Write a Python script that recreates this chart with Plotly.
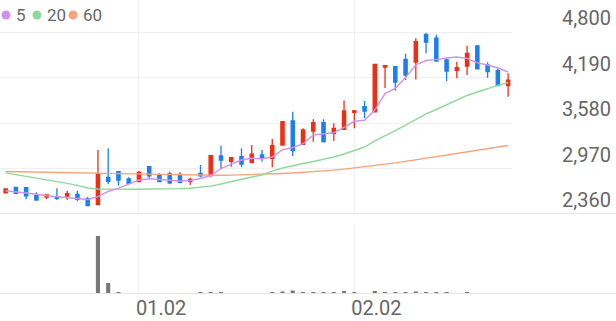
import plotly.graph_objects as go

dates = ["2025-12-11", "2025-12-12", "2025-12-15", "2025-12-16", "2025-12-17", "2025-12-18", "2025-12-19",
         "2025-12-22", "2025-12-23", "2025-12-24", "2025-12-26", "2025-12-29", "2025-12-30",
         "2026-01-02", "2026-01-05", "2026-01-06", "2026-01-07", "2026-01-08", "2026-01-09",
         "2026-01-12", "2026-01-13", "2026-01-14", "2026-01-15", "2026-01-16",
         "2026-01-19", "2026-01-20", "2026-01-21", "2026-01-22", "2026-01-23",
         "2026-01-26", "2026-01-27", "2026-01-28", "2026-01-29", "2026-01-30",
         "2026-02-02", "2026-02-03", "2026-02-04", "2026-02-05", "2026-02-06",
         "2026-02-09", "2026-02-10", "2026-02-11", "2026-02-12", "2026-02-13",
         "2026-02-19", "2026-02-20", "2026-02-23", "2026-02-24", "2026-02-25", "2026-02-26"]

open_ = [2645, 2718, 2713, 2611, 2588, 2592, 2601, 2624, 2565, 2485,
         2852, 2927, 2829, 2793, 2994, 2883, 2896, 2892, 2798, 2905,
         2879, 3138, 3066, 3128, 3048, 3151, 3107, 3285, 3607, 3294,
         3473, 3584, 3442, 3495, 3723, 3798, 3731, 4331, 4335, 4434,
         4398, 4764, 4716, 4425, 4286, 4344, 4612, 4358, 4281, 4080]
high = [2700, 2722, 2713, 2651, 2615, 2704, 2672, 2672, 2588, 3218,
        3241, 2927, 2852, 2936, 2994, 2905, 2927, 2919, 2847, 3017,
        3142, 3276, 3115, 3241, 3285, 3218, 3365, 3597, 3732, 3509,
        3629, 3629, 3576, 3882, 3754, 3875, 4367, 4348, 4335, 4508,
        4716, 4791, 4764, 4447, 4402, 4616, 4626, 4394, 4321, 4246]
low = [2640, 2632, 2557, 2548, 2561, 2548, 2548, 2530, 2471, 2485,
       2758, 2742, 2758, 2793, 2838, 2785, 2758, 2771, 2749, 2852,
       2852, 2959, 2994, 2986, 3048, 3061, 2986, 3285, 3138, 3294,
       3329, 3318, 3339, 3495, 3509, 3643, 3731, 4049, 4013, 4156,
       4163, 4514, 4411, 4143, 4179, 4223, 4307, 4187, 4080, 3932]
close = [2695, 2637, 2605, 2548, 2615, 2570, 2632, 2557, 2471, 2900,
         2798, 2816, 2771, 2919, 2873, 2793, 2779, 2785, 2825, 2873,
         3142, 3084, 3115, 3030, 3164, 3115, 3276, 3597, 3209, 3486,
         3584, 3332, 3509, 3741, 3741, 3741, 4367, 4348, 4130, 4223,
         4670, 4663, 4411, 4277, 4321, 4514, 4307, 4268, 4080, 4156]

ma5 = [2672, 2659, 2645, 2624, 2605, 2592, 2584, 2570, 2554, 2594,
       2662, 2708, 2762, 2816, 2833, 2825, 2809, 2802, 2809, 2836,
       2876, 2970, 3030, 3084, 3107, 3101, 3124, 3222, 3251, 3302,
       3419, 3439, 3449, 3520, 3603, 3616, 3754, 3974, 4045, 4190,
       4358, 4418, 4429, 4451, 4465, 4447, 4387, 4358, 4317, 4264]
ma20 = [2911, 2889, 2865, 2843, 2818, 2794, 2770, 2743, 2709, 2695,
        2692, 2691, 2691, 2692, 2695, 2695, 2698, 2700, 2706, 2718,
        2733, 2762, 2796, 2829, 2856, 2883, 2936, 2977, 3010, 3037,
        3064, 3091, 3124, 3165, 3209, 3258, 3339, 3406, 3479, 3553,
        3627, 3701, 3761, 3821, 3882, 3949, 3996, 4043, 4085, 4123]
ma60 = [2930, 2928, 2926, 2923, 2920, 2918, 2915, 2912, 2910, 2907,
        2904, 2902, 2899, 2896, 2894, 2891, 2888, 2885, 2883, 2881,
        2880, 2880, 2881, 2884, 2887, 2891, 2896, 2903, 2910, 2918,
        2926, 2935, 2948, 2962, 2977, 2993, 3009, 3028, 3046, 3066,
        3087, 3108, 3129, 3151, 3172, 3194, 3215, 3237, 3258, 3278]

volume = [40000, 50000, 40000, 40000, 40000, 60000, 50000, 60000, 80000, 5800000,
          1100000, 130000, 100000, 100000, 100000, 80000, 100000, 60000, 60000, 150000,
          200000, 200000, 80000, 80000, 80000, 80000, 130000, 250000, 350000, 200000,
          120000, 150000, 150000, 300000, 120000, 100000, 300000, 150000, 150000, 150000,
          250000, 180000, 150000, 120000, 100000, 120000, 100000, 80000, 80000, 80000]

price_ticks = [2360, 2970, 3580, 4190, 4800]
price_tick_text = ["2,360", "2,970", "3,580", "4,190", "4,800"]
x_tick_dates = ["2026-01-02", "2026-02-02"]
x_tick_text = ["01.02", "02.02"]

legend_names = ["5", "20", "60"]
RED = "#ee2f12"
BLUE = "#1c7ff0"
C5 = "#d092ee"
C20 = "#8fd99b"
C60 = "#f7a27c"
GRID = "#f0f0f0"
FONT = "Roboto"

fig = go.Figure()
fig.add_trace(go.Scatter(x=dates, y=ma60, mode="lines", line=dict(color=C60, width=1.4),
                         xaxis="x", yaxis="y", hoverinfo="skip"))
fig.add_trace(go.Scatter(x=dates, y=ma20, mode="lines", line=dict(color=C20, width=1.4),
                         xaxis="x", yaxis="y", hoverinfo="skip"))
fig.add_trace(go.Scatter(x=dates, y=ma5, mode="lines", line=dict(color=C5, width=1.4),
                         xaxis="x", yaxis="y", hoverinfo="skip"))
fig.add_trace(go.Candlestick(
    x=dates, open=open_, high=high, low=low, close=close,
    increasing=dict(line=dict(color=RED, width=1.3), fillcolor=RED),
    decreasing=dict(line=dict(color=BLUE, width=1.3), fillcolor=BLUE),
    whiskerwidth=0, xaxis="x", yaxis="y"))
fig.add_trace(go.Bar(x=dates, y=volume, marker=dict(color="#777777", line=dict(width=0)),
                     width=0.4, xaxis="x", yaxis="y2"))

fig.update_layout(
    width=616, height=321,
    margin=dict(l=0, r=104, t=0, b=27),
    paper_bgcolor="white", plot_bgcolor="white",
    showlegend=False, boxgap=0.55,
    font=dict(family=FONT, color="#666666"),
    xaxis=dict(type="category", range=[-0.55, 49.38], anchor="y2",
               tickvals=x_tick_dates, ticktext=x_tick_text,
               showgrid=True, gridcolor=GRID, gridwidth=1,
               zeroline=False, showline=False, ticks="",
               ticklabelposition="outside right", ticklabelshift=-3,
               tickfont=dict(family=FONT, size=20, color="#666666"),
               rangeslider=dict(visible=False), fixedrange=True),
    yaxis=dict(domain=[0.2721, 1], range=[2360, 5229], side="right",
               tickvals=price_ticks, ticktext=price_tick_text,
               showgrid=True, gridcolor=GRID, gridwidth=1,
               zeroline=False, showline=False, ticks="",
               ticklabelposition="outside top", ticklabelstandoff=49,
               tickfont=dict(family=FONT, size=20, color="#666666")),
    yaxis2=dict(domain=[0, 0.2347], range=[0, 6900000], visible=False),
)

# full-width baseline rules
for yref, yval in (("y", 2360), ("y2", 0)):
    fig.add_shape(type="line", xref="paper", yref=yref, x0=0, x1=616 / 512, y0=yval, y1=yval,
                  line=dict(color="#e6e6e6", width=2))

# legend
leg_x = [6, 37, 73]
leg_colors = [C5, C20, C60]
for px, col, name in zip(leg_x, leg_colors, legend_names):
    fig.add_shape(type="circle", xref="paper", yref="paper",
                  x0=(px - 4.5) / 512, x1=(px + 4.5) / 512,
                  y0=(294 - 15 - 4.5) / 294, y1=(294 - 15 + 4.5) / 294,
                  fillcolor=col, line=dict(width=0))
    fig.add_annotation(xref="paper", yref="paper", x=(px + 8) / 512, y=(294 - 15) / 294,
                       text=name, showarrow=False, xanchor="left", yanchor="middle",
                       font=dict(family=FONT, size=17, color="#666666"))

fig.write_html("out.html")
